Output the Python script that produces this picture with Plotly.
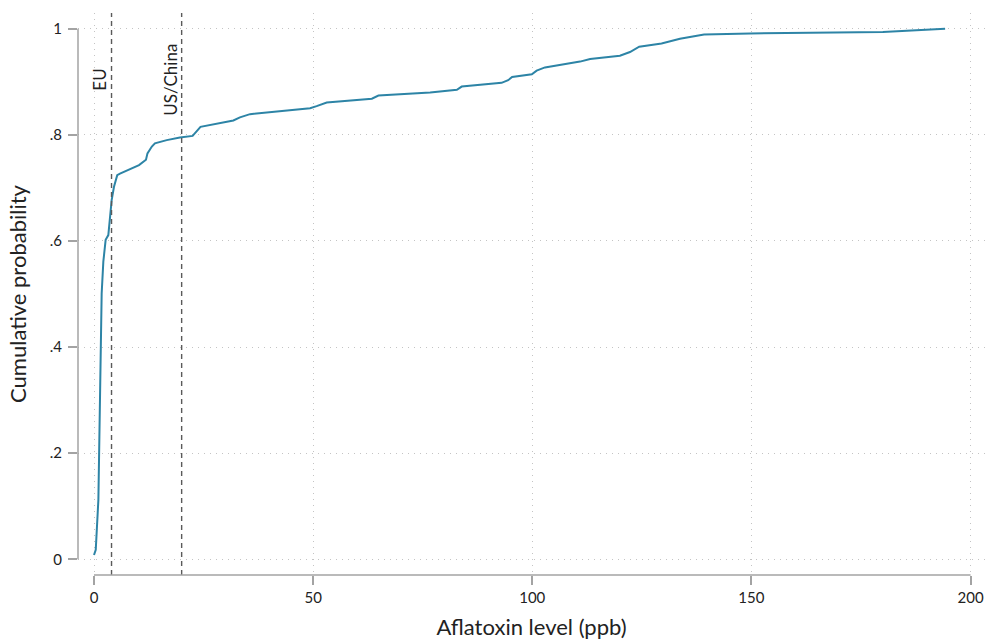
import plotly.graph_objects as go

aflatoxin_ppb = [0.0, 0.4, 1.0, 1.14, 1.44, 1.75, 2.13, 2.66, 3.27, 3.65, 4.03, 4.56, 5.3, 5.93,
                 10.27, 11.86, 12.2, 13.2, 13.9, 16.6, 19.6, 22.5, 24.3, 31.8, 33.3, 35.6, 42.4,
                 49.3, 50.8, 53.1, 63.4, 64.9, 76.7, 82.8, 83.9, 88.1, 93.0, 94.5, 95.4, 99.9,
                 101.0, 102.9, 110.9, 113.2, 120.0, 122.3, 124.4, 129.5, 131.8, 133.7, 139.2,
                 149.7, 180.0, 194.2]
cum_prob = [0.008, 0.018, 0.112, 0.200, 0.401, 0.501, 0.561, 0.602, 0.611, 0.646, 0.677, 0.702,
            0.724, 0.727, 0.743, 0.753, 0.765, 0.778, 0.784, 0.790, 0.795, 0.798, 0.815, 0.827,
            0.833, 0.839, 0.845, 0.850, 0.854, 0.861, 0.868, 0.874, 0.880, 0.885, 0.891, 0.894,
            0.898, 0.903, 0.909, 0.914, 0.921, 0.927, 0.938, 0.943, 0.949, 0.956, 0.966, 0.972,
            0.977, 0.981, 0.989, 0.991, 0.994, 1.0]

limit_values = [4, 20]
limit_labels = ["EU", "US/China"]

x_ticks = [0, 50, 100, 150, 200]
y_ticks = [0, 0.2, 0.4, 0.6, 0.8, 1]
y_tick_labels = ["0", ".2", ".4", ".6", ".8", "1"]

FONT = "Lato"
AXIS_COL = "#a3a3a3"
GRID_COL = "#c4c4c4"
XR = [-3.65, 203.3]
YR = [-0.0296, 1.0296]


def xp(v):
    return (v - XR[0]) / (XR[1] - XR[0])


def yp(v):
    return (v - YR[0]) / (YR[1] - YR[0])


fig = go.Figure()
fig.add_trace(go.Scatter(x=aflatoxin_ppb, y=cum_prob, mode="lines",
                         line=dict(color="#2d84a6", width=2), showlegend=False,
                         hoverinfo="skip"))

shapes = []
for v in limit_values:
    shapes.append(dict(type="line", xref="x", yref="paper", x0=v, x1=v, y0=0, y1=1,
                       line=dict(color="#5a5a5a", width=1.4, dash="5px,4px")))
# detached axis lines spanning the data range
shapes.append(dict(type="line", xref="paper", yref="paper", x0=0, x1=0,
                   y0=yp(y_ticks[0]), y1=yp(y_ticks[-1]),
                   line=dict(color=AXIS_COL, width=1.5)))
shapes.append(dict(type="line", xref="paper", yref="paper", x0=xp(x_ticks[0]),
                   x1=xp(x_ticks[-1]), y0=0, y1=0,
                   line=dict(color=AXIS_COL, width=1.5)))

annotations = []
for v, lab in zip(limit_values, limit_labels):
    annotations.append(dict(x=v, y=0.904, xref="x", yref="y", text=lab, textangle=-90,
                            showarrow=False, xanchor="right", yanchor="middle", xshift=1,
                            font=dict(family=FONT, size=17, color="#222")))

fig.update_layout(
    width=985, height=641,
    margin=dict(l=78, r=0, t=13, b=66),
    paper_bgcolor="white", plot_bgcolor="white",
    font=dict(family=FONT, color="#222"),
    shapes=shapes, annotations=annotations,
    xaxis=dict(range=XR, tickvals=x_ticks, ticks="outside", ticklen=9, automargin=False,
               tickcolor=AXIS_COL, tickwidth=1.5, showline=False, zeroline=False,
               showgrid=True, gridcolor=GRID_COL, griddash="1px,5px", gridwidth=1,
               tickfont=dict(size=15, family=FONT, color="#222"),
               title=dict(text="Aflatoxin level (ppb)", standoff=14,
                          font=dict(size=22, family=FONT, color="#222"))),
    yaxis=dict(range=YR, tickvals=y_ticks, ticktext=y_tick_labels, automargin=False,
               ticks="outside", ticklen=9, tickcolor=AXIS_COL, tickwidth=1.5,
               showline=False, zeroline=False, showgrid=True, gridcolor=GRID_COL,
               griddash="1px,5px", gridwidth=1, ticklabelstandoff=3,
               tickfont=dict(size=15, family=FONT, color="#222"),
               title=dict(text="Cumulative probability", standoff=17,
                          font=dict(size=22, family=FONT, color="#222"))),
)

fig.write_html("out.html", config={"displayModeBar": False},
               post_script="document.body.style.margin='0';document.body.style.overflow='hidden';")
